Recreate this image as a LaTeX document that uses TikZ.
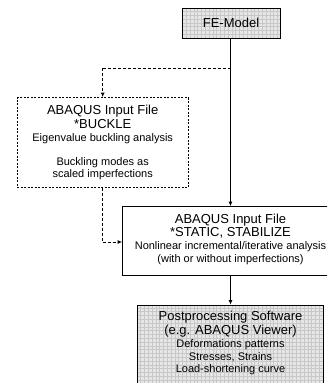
\documentclass[tikz,border=0pt]{standalone}
\usepackage{fontspec}
\setmainfont{Liberation Sans}
\usetikzlibrary{arrows.meta}
\definecolor{gridfill}{HTML}{E6E6E6}
\definecolor{gridline}{HTML}{C8C8C8}
\tikzset{
  x=1pt, y=-1pt,
  box/.style={draw=black, line width=0.8pt, rectangle, inner sep=0pt},
  dbox/.style={draw=black, line width=0.8pt, rectangle, inner sep=0pt, dash pattern=on 2pt off 1.5pt},
  big/.style={anchor=base, inner sep=0pt, font=\fontsize{13}{15}\selectfont},
  small/.style={anchor=base, inner sep=0pt, font=\fontsize{11}{13}\selectfont},
  arr/.style={line width=0.8pt, -{Latex[length=4.5pt,width=4pt]}},
  darr/.style={line width=0.8pt, dash pattern=on 3pt off 2pt, -{Latex[length=4.5pt,width=4pt]}},
  dline/.style={line width=0.8pt, dash pattern=on 3pt off 2pt},
  sline/.style={line width=0.8pt}
}
\begin{document}
\begin{tikzpicture}
\useasboundingbox (0,0) rectangle (327,383);
\clip (0,0) rectangle (327,383);
% FE-Model box
\fill[gridfill] (182,8) rectangle (280,38);
\begin{scope}
\clip (182,8) rectangle (280,38);
\draw[gridline, line width=0.3pt, step=3.8pt] (180,6) grid (282,40);
\end{scope}
\node[box, minimum width=98pt, minimum height=30pt] (fe) at (231,23) {};
\node[big] (fet) at (231,27.5) {FE-Model};
% Buckle box
\node[dbox, minimum width=171pt, minimum height=90pt] (buck) at (102.7,142.5) {};
\node[big] (b1) at (102.7,114) {ABAQUS Input File};
\node[big] (b2) at (102.7,128.3) {*BUCKLE};
\node[small] (b3) at (102.7,141.7) {Eigenvalue buckling analysis};
\node[small] (b4) at (102.7,165) {Buckling modes as};
\node[small] (b5) at (102.7,177.7) {scaled imperfections};
% Static box
\node[box, minimum width=216pt, minimum height=68.5pt] (stat) at (230.5,240.8) {};
\node[big] (s1) at (230.5,223.3) {ABAQUS Input File};
\node[big] (s2) at (230.5,236.7) {*STATIC, STABILIZE};
\node[small] (s3) at (230.5,249.6) {Nonlinear incremental/iterative analysis};
\node[small] (s4) at (230.5,262.3) {(with or without imperfections)};
% Post box
\fill[gridfill] (137,305) rectangle (323.5,395);
\begin{scope}
\clip (137,305) rectangle (323.5,395);
\draw[gridline, line width=0.3pt, step=3.8pt] (135,303) grid (326,397);
\end{scope}
\node[box, minimum width=186.5pt, minimum height=90pt] (post) at (230.25,350) {};
\node[big] (p1) at (230.5,320.7) {Postprocessing Software};
\node[big] (p2) at (230.5,334.5) {(e.g. ABAQUS Viewer)};
\node[small] (p3) at (230.5,347.7) {Deformations patterns};
\node[small] (p4) at (230.5,360.2) {Stresses, Strains};
\node[small] (p5) at (230.5,372.7) {Load-shortening curve};
% connectors
\coordinate (split) at (230.5,68);
\coordinate (bend1) at (102.7,68);
\coordinate (bend2) at (102.7,242);
\draw[arr] (fe.south -| split) -- (stat.north -| split);
\draw[dline] (split) -- (bend1);
\draw[darr] (bend1) -- (buck.north);
\draw[dline] (buck.south) -- (bend2);
\draw[darr] (bend2) -- (bend2 -| stat.west);
\draw[arr] (stat.south -| split) -- (post.north -| split);
\end{tikzpicture}
\end{document}
